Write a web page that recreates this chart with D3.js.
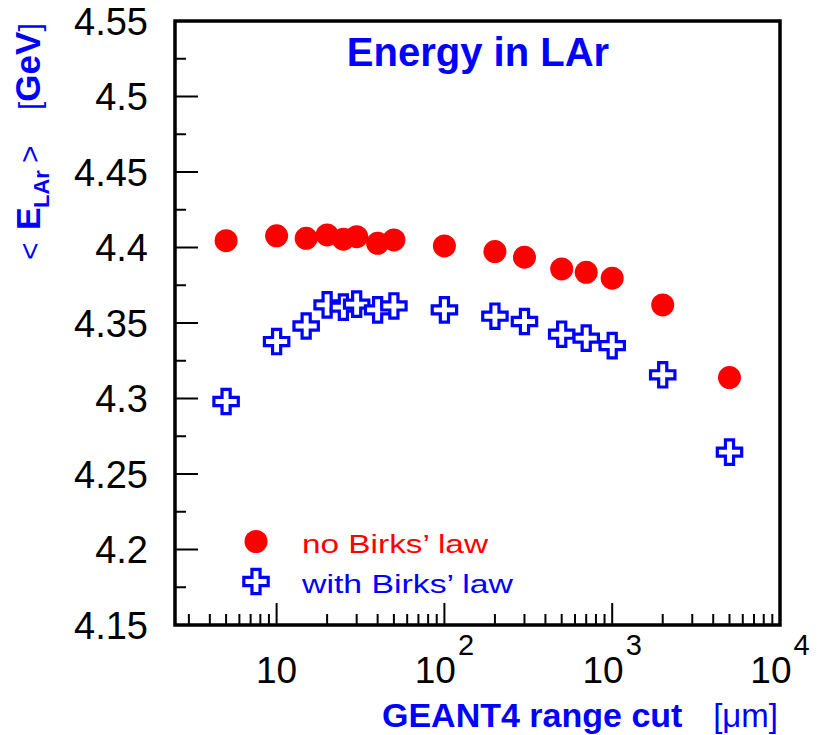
<!DOCTYPE html>
<html>
<head>
<meta charset="utf-8">
<script src="https://cdn.jsdelivr.net/npm/d3@7"></script>
<style>
  html, body { margin: 0; padding: 0; background: #fff; }
  svg { display: block; font-family: "Liberation Sans", Arial, Helvetica, sans-serif; }
</style>
</head>
<body>
<svg id="chart" width="828" height="735"></svg>
<script>
// ---- data ----
const rangeCuts = [5, 10, 15, 20, 25, 30, 40, 50, 100, 200, 300, 500, 700, 1000, 2000, 5000];
const noBirks   = [4.4045, 4.4077, 4.4061, 4.4083, 4.4055, 4.4072, 4.4028, 4.4050, 4.4010, 4.3973, 4.3936, 4.3858, 4.3836, 4.3797, 4.3620, 4.3139];
const withBirks = [4.2980, 4.3377, 4.3480, 4.3620, 4.3605, 4.3625, 4.3587, 4.3613, 4.3587, 4.3545, 4.3510, 4.3426, 4.3400, 4.3350, 4.3157, 4.2645];
const yTickValues = [4.15, 4.2, 4.25, 4.3, 4.35, 4.4, 4.45, 4.5, 4.55];
const yTickLabels = ["4.15", "4.2", "4.25", "4.3", "4.35", "4.4", "4.45", "4.5", "4.55"];
const xTickValues = [10, 100, 1000, 10000];
const xTickBase = ["10", "10", "10", "10"];
const xTickExp = ["", "2", "3", "4"];
const legendLabels = ["no Birks\u2019 law", "with Birks\u2019 law"];

const RED = "#ff0000", BLUE = "#0000ff";

const svg = d3.select("#chart");
const L = 175, R = 780, T = 21, B = 625;

const x = d3.scaleLog().domain([2.48, 10000]).range([L, R]);
const y = d3.scaleLinear().domain([4.15, 4.55]).range([B, T]);

// ---- ticks (inside, left and bottom) ----
const yMinor = d3.range(4.175, 4.55, 0.05);
const tickG = svg.append("g").attr("stroke", "#000").attr("stroke-width", 2);
yTickValues.forEach(v => {
  tickG.append("line").attr("x1", L).attr("x2", L + 23).attr("y1", y(v)).attr("y2", y(v));
});
yMinor.forEach(v => {
  tickG.append("line").attr("x1", L).attr("x2", L + 11).attr("y1", y(v)).attr("y2", y(v));
});
const xMinor = [];
[1, 10, 100, 1000].forEach(d => { for (let k = 2; k <= 9; k++) { const v = d * k; if (v >= 2.48 && v < 10000) xMinor.push(v); } });
xMinor.forEach(v => {
  tickG.append("line").attr("x1", x(v)).attr("x2", x(v)).attr("y1", B).attr("y2", B - 11);
});
xTickValues.forEach(v => {
  tickG.append("line").attr("x1", x(v)).attr("x2", x(v)).attr("y1", B).attr("y2", B - 22);
});

// ---- frame ----
svg.append("rect").attr("x", L).attr("y", T).attr("width", R - L).attr("height", B - T)
  .attr("fill", "none").attr("stroke", "#000").attr("stroke-width", 3.5);

// ---- tick labels ----
svg.append("g").selectAll("text").data(yTickValues).join("text")
  .attr("x", 148).attr("y", d => y(d)).attr("dy", "0.36em")
  .attr("text-anchor", "end").attr("font-size", 38).attr("fill", "#000")
  .text((d, i) => yTickLabels[i]);

xTickValues.forEach((v, i) => {
  const t = svg.append("text").attr("x", x(v)).attr("y", 683)
    .attr("text-anchor", "middle").attr("font-size", 37).attr("fill", "#000");
  t.append("tspan").text(xTickBase[i]);
  if (xTickExp[i]) t.append("tspan").attr("dy", -28).attr("dx", 2).attr("font-size", 29).text(xTickExp[i]);
});

// ---- data points ----
svg.append("g").selectAll("circle").data(rangeCuts).join("circle")
  .attr("cx", d => x(d)).attr("cy", (d, i) => y(noBirks[i])).attr("r", 11.5).attr("fill", RED);

const cross = d3.symbol().type(d3.symbolCross).size(330);
svg.append("g").selectAll("path").data(rangeCuts).join("path")
  .attr("transform", (d, i) => `translate(${x(d)},${y(withBirks[i])})`)
  .attr("d", cross).attr("fill", "#fff").attr("stroke", BLUE).attr("stroke-width", 3.2);

// ---- title ----
svg.append("text").attr("x", 478).attr("y", 66).attr("text-anchor", "middle")
  .attr("font-size", 40).attr("font-weight", "bold").attr("fill", BLUE).text("Energy in LAr");

// ---- legend ----
svg.append("circle").attr("cx", 256).attr("cy", 541.5).attr("r", 11.5).attr("fill", RED);
svg.append("path").attr("transform", "translate(256,581.5)").attr("d", cross)
  .attr("fill", "#fff").attr("stroke", BLUE).attr("stroke-width", 3.2);
svg.append("text").attr("x", 302).attr("y", 553).attr("font-size", 26).attr("fill", RED)
  .attr("textLength", 186).attr("lengthAdjust", "spacingAndGlyphs").text(legendLabels[0]);
svg.append("text").attr("x", 302).attr("y", 593).attr("font-size", 26).attr("fill", BLUE)
  .attr("textLength", 211).attr("lengthAdjust", "spacingAndGlyphs").text(legendLabels[1]);

// ---- x axis title ----
svg.append("text").attr("x", 382).attr("y", 727).attr("font-size", 34).attr("font-weight", "bold")
  .attr("fill", BLUE).text("GEANT4 range cut");
svg.append("text").attr("x", 778).attr("y", 727).attr("text-anchor", "end").attr("font-size", 33)
  .attr("fill", BLUE).text("[\u03bcm]");

// ---- y axis title (rotated) ----
const yl = svg.append("text").attr("transform", "translate(40,260) rotate(-90)")
  .attr("fill", BLUE).attr("font-size", 30);
yl.append("tspan").attr("x", 0).text("<");
yl.append("tspan").attr("x", 30).attr("font-weight", "bold").attr("font-size", 34).text("E");
yl.append("tspan").attr("x", 52).attr("dy", 9).attr("font-weight", "bold").attr("font-size", 22).text("LAr");
yl.append("tspan").attr("x", 97).attr("dy", -9).text(">");
yl.append("tspan").attr("x", 150).text("[");
yl.append("tspan").attr("font-weight", "bold").attr("font-size", 35).text("GeV");
yl.append("tspan").text("]");
</script>
</body>
</html>
